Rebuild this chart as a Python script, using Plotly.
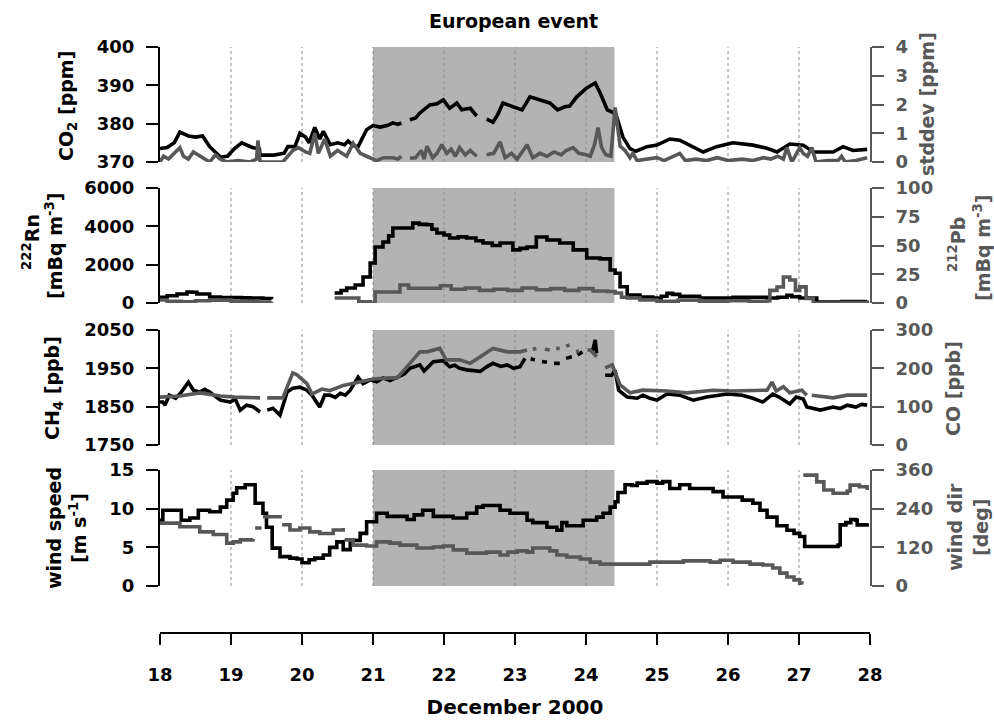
import plotly.graph_objects as go

# ---------------- data ----------------
days = [18, 19, 20, 21, 22, 23, 24, 25, 26, 27, 28]
event_start, event_end = 21.0, 24.4

co2_x = [18.0, 18.1, 18.2, 18.28, 18.4, 18.5, 18.6, 18.7, 18.85, 18.95, 19.05, 19.15, 19.3, 19.4, 19.41, 19.6, 19.75, 19.8, 19.9, 19.97, 20.05, 20.1, 20.18, 20.25, 20.3, 20.4, 20.5, 20.6, 20.65, 20.72, 20.79, 20.85, 20.91, 21.0, 21.1, 21.2, 21.28, 21.35, 21.4, None,
         21.52, 21.6, 21.66, 21.8, 21.9, 21.99, 22.08, 22.18, 22.25, 22.37, 22.46, None,
         22.6, 22.69, 22.76, 22.83, 22.97, 23.1, 23.21, 23.35, 23.49, 23.6, 23.7, 23.77, 23.87, 24.01, 24.13, 24.2, 24.3, 24.37, 24.42, 24.52, 24.62, 24.7, 24.86, 25.0, 25.18, 25.32, 25.49, 25.65, 25.84, 26.07, 26.35, 26.55, 26.69, 26.87, 27.06, 27.2, 27.48, 27.62, 27.76, 27.96]
co2_y = [373.5, 373.8, 375.0, 377.8, 376.8, 376.5, 376.8, 374.0, 371.3, 371.5, 373.5, 375.0, 373.8, 373.4, 371.8, 371.8, 372.3, 374.0, 374.0, 377.5, 376.5, 375.0, 379.0, 376.0, 378.0, 374.5, 375.0, 374.5, 375.5, 374.3, 374.0, 376.0, 378.4, 379.5, 379.1, 379.5, 380.2, 379.8, 380.2, None,
         381.0, 381.5, 382.8, 384.9, 385.2, 386.2, 384.0, 385.4, 383.6, 384.0, 382.0, None,
         381.2, 380.4, 382.5, 385.4, 384.4, 383.6, 387.0, 386.2, 385.4, 383.6, 384.4, 384.6, 387.0, 389.3, 390.6, 388.0, 383.6, 383.0, 382.5, 376.5, 373.5, 372.8, 374.0, 374.4, 376.0, 375.7, 374.2, 372.6, 374.0, 375.0, 374.4, 373.6, 372.6, 374.7, 374.4, 372.6, 372.6, 374.0, 373.0, 373.3]

sd_x = [18.0, 18.05, 18.12, 18.2, 18.28, 18.33, 18.4, 18.47, 18.56, 18.63, 18.7, 18.78, 18.85, 18.94, 19.1, 19.27, 19.36, 19.38, 19.41, 19.6, 19.73, 19.87, 19.95, 20.05, 20.11, 20.18, 20.23, 20.32, 20.4, 20.5, 20.63, 20.72, 20.82, 20.91, 21.05, 21.15, 21.28, 21.35, 21.4, None,
        21.52, 21.6, 21.68, 21.72, 21.76, 21.84, 21.9, 21.97, 22.04, 22.1, 22.16, 22.22, 22.3, 22.37, 22.46, None,
        22.6, 22.7, 22.79, 22.86, 22.95, 23.03, 23.1, 23.17, 23.25, 23.35, 23.45, 23.55, 23.65, 23.72, 23.82, 23.9, 24.0, 24.06, 24.12, 24.17, 24.22, 24.28, 24.35, 24.41, 24.48, 24.55, 24.62, 24.66, 24.72, 24.85, 25.0, 25.1, 25.25, 25.32, 25.4, 25.55, 25.7, 25.85, 26.0, 26.2, 26.35, 26.5, 26.6, 26.7, 26.78, 26.83, 26.9, 26.96, 27.01, 27.06, 27.12, 27.18, 27.24, 27.4, 27.55, 27.6, 27.65, 27.8, 27.96]
sd_y = [0.0, 0.2, 0.1, 0.3, 0.5, 0.2, 0.1, 0.35, 0.2, 0.1, 0.0, 0.25, 0.1, 0.0, 0.05, 0.0, 0.1, 0.75, 0.0, 0.0, 0.0, 0.4, 0.5, 0.35, 0.3, 1.0, 0.3, 0.8, 0.2, 0.4, 0.2, 0.65, 0.3, 0.2, 0.05, 0.15, 0.15, 0.1, 0.2, None,
        0.13, 0.15, 0.4, 0.1, 0.55, 0.15, 0.3, 0.6, 0.3, 0.45, 0.2, 0.5, 0.25, 0.4, 0.2, None,
        0.25, 0.3, 0.7, 0.15, 0.3, 0.1, 0.35, 0.6, 0.15, 0.3, 0.2, 0.35, 0.25, 0.4, 0.5, 0.3, 0.25, 0.2, 0.6, 1.2, 0.5, 0.25, 0.2, 1.9, 0.55, 0.4, 0.15, 0.3, 0.05, 0.1, 0.15, 0.05, 0.2, 0.3, 0.05, 0.1, 0.05, 0.15, 0.05, 0.1, 0.05, 0.15, 0.1, 0.2, 0.1, 0.5, 0.0, 0.3, 0.5, 0.3, 0.2, 0.5, 0.0, 0.05, 0.05, 0.2, 0.0, 0.05, 0.15]

rn_x = [18.0, 18.1, 18.24, 18.38, 18.45, 18.52, 18.7, 18.85, 18.99, 19.15, 19.27, 19.45, 19.57, None,
        20.46, 20.55, 20.63, 20.75, 20.86, 20.96, 21.03, 21.14, 21.22, 21.28, 21.42, 21.56, 21.65, 21.76, 21.83, 21.9, 22.0, 22.08, 22.2, 22.32, 22.45, 22.55, 22.68, 22.79, 22.97, 23.07, 23.17, 23.3, 23.45, 23.63, 23.82, 24.01, 24.2, 24.34, 24.41, 24.48, 24.58, 24.76, 24.94, 25.06, 25.14, 25.22, 25.32, 25.6, 26.07, 26.55, 26.7, 26.83, 26.9, 27.01, 27.25, 27.6, 27.96]
rn_y = [300, 380, 470, 575, 560, 470, 313, 290, 280, 270, 260, 230, 200, None,
        520, 650, 780, 940, 1360, 2090, 2920, 3180, 3500, 3910, 3910, 4170, 4100, 4080, 3850, 3650, 3550, 3390, 3450, 3390, 3250, 3130, 3000, 3130, 2770, 2850, 2920, 3440, 3290, 3130, 2770, 2350, 2300, 1720, 1550, 850, 420, 310, 260, 350, 500, 450, 350, 260, 300, 260, 300, 400, 330, 260, 50, 80, 120]

pb_x = [18.0, 18.1, 18.3, 18.5, 18.7, 19.0, 19.2, 19.4, 19.57, None,
        20.46, 20.65, 20.8, 20.96, 21.03, 21.34, 21.38, 21.5, 21.85, 21.95, 22.1, 22.3, 22.5, 22.7, 22.9, 23.1, 23.3, 23.5, 23.7, 23.9, 24.1, 24.3, 24.41, 24.5, 24.58, 24.76, 25.0, 25.3, 25.6, 26.0, 26.3, 26.55, 26.59, 26.69, 26.78, 26.87, 26.95, 27.01, 27.1, 27.2, 27.6, 27.96]
pb_y = [2.6, 1.5, 1.0, 2.0, 2.5, 1.5, 1.0, 0.5, 1.0, None,
        4.3, 4.3, 1.0, 0.0, 9.6, 9.6, 15.6, 12.8, 12.8, 15.0, 12.0, 13.0, 11.0, 12.0, 11.0, 13.0, 11.5, 12.5, 11.0, 12.5, 10.5, 10.0, 8.7, 5.0, 4.3, 2.6, 1.5, 2.5, 1.5, 2.0, 1.5, 2.0, 11.0, 13.9, 22.6, 20.0, 11.0, 14.0, 4.0, 0.0, 0.5, 0.0]

ch4_x = [18.0, 18.04, 18.07, 18.13, 18.22, 18.3, 18.4, 18.47, 18.56, 18.63, 18.7, 18.78, 18.85, 18.99, 19.06, 19.13, 19.22, 19.31, 19.41, None,
         19.51, 19.59, 19.69, 19.79, 19.87, 19.97, 20.07, 20.14, 20.25, 20.32, 20.39, 20.47, 20.54, 20.61, 20.68, 20.79, 20.86, 20.96, 21.05, 21.14, 21.24, 21.34, 21.44, 21.52, 21.66, 21.72, 21.85, 21.99, 22.08, 22.15, 22.22, 22.32, 22.41, 22.51, 22.6, 22.69, 22.8, 22.89, 22.98, 23.07, 23.14, None,
         23.22, 23.28, None, 23.38, 23.45, None, 23.55, 23.63, None, 23.72, 23.8, None, 23.88, 23.95, None, 24.06, 24.1, 24.13, 24.15, None,
         24.27, 24.36, 24.41, 24.46, 24.58, 24.72, 24.8, 24.9, 25.0, 25.14, 25.32, 25.42, 25.51, 25.7, 25.85, 25.99, 26.2, 26.35, 26.49, 26.63, 26.72, 26.87, 26.96, 27.06, 27.11, 27.3, 27.48, 27.58, 27.68, 27.8, 27.88, 27.96]
ch4_y = [1862, 1862, 1854, 1880, 1872, 1888, 1914, 1893, 1888, 1895, 1888, 1878, 1867, 1862, 1870, 1841, 1854, 1850, 1836, None,
         1841, 1846, 1828, 1888, 1898, 1901, 1893, 1880, 1849, 1880, 1880, 1874, 1885, 1880, 1893, 1927, 1910, 1920, 1915, 1925, 1918, 1927, 1935, 1950, 1959, 1943, 1967, 1970, 1954, 1958, 1950, 1946, 1943, 1942, 1954, 1963, 1955, 1959, 1950, 1954, 1976, None,
         1975, 1972, None, 1968, 1966, None, 1963, 1963, None, 1976, 1980, None, 1985, 1993, None, 1995, 2000, 2024, 1989, None,
         1932, 1932, 1945, 1893, 1875, 1872, 1880, 1872, 1867, 1883, 1880, 1874, 1867, 1875, 1878, 1883, 1880, 1872, 1862, 1883, 1875, 1857, 1875, 1870, 1849, 1841, 1849, 1845, 1854, 1849, 1856, 1854]

co_x = [18.0, 18.28, 18.56, 18.85, 19.05, 19.41, None,
        19.51, 19.73, 19.87, 19.93, 20.07, 20.14, 20.28, 20.39, 20.58, 20.82, 21.0, 21.24, 21.34, 21.52, 21.66, 21.76, 21.94, 22.03, 22.22, 22.37, 22.55, 22.69, 22.89, 23.07, 23.17, None,
        23.25, 23.3, None, 23.42, 23.49, None, 23.58, 23.63, None, 23.72, 23.77, None, 23.86, 23.9, None, 24.02, 24.06, 24.15, None,
        24.27, 24.37, 24.48, 24.62, 24.8, 25.14, 25.42, 25.79, 26.07, 26.45, 26.55, 26.62, 26.68, 26.78, 26.87, 27.04, 27.11, None,
        27.18, 27.48, 27.68, 27.96]
co_y = [125, 128, 136, 128, 125, 123, None,
        123, 123, 188, 183, 160, 133, 146, 142, 155, 164, 172, 175, 175, 213, 243, 243, 252, 222, 222, 213, 235, 252, 243, 243, 248, None,
        250, 252, None, 250, 248, None, 252, 252, None, 258, 261, None, 243, 245, None, 248, 248, 230, None,
        201, 209, 157, 136, 143, 141, 136, 143, 141, 141, 143, 164, 141, 152, 136, 143, 130, None,
        130, 123, 130, 130]

ws_x = [18.0, 18.04, 18.3, 18.42, 18.54, 18.7, 18.85, 18.94, 19.03, 19.08, 19.2, 19.34, 19.45, 19.5, 19.58, 19.69, 19.83, 19.93, 20.0, 20.1, 20.18, 20.3, 20.39, 20.49, 20.58, 20.68, 20.82, 20.91, 21.05, 21.2, 21.48, 21.58, 21.7, 21.85, 22.13, 22.32, 22.46, 22.55, 22.79, 22.93, 23.17, 23.25, 23.45, 23.59, 23.66, 23.73, 23.96, 24.15, 24.24, 24.34, 24.41, 24.45, 24.55, 24.65, 24.72, 24.86, 25.0, 25.08, 25.18, 25.32, 25.46, 25.79, 25.93, 26.2, 26.35, 26.45, 26.55, 26.69, 26.83, 26.93, 27.01, 27.08, 27.55, 27.58, 27.66, 27.73, 27.8, 27.82, 27.96]
ws_y = [8.5, 9.8, 8.5, 8.8, 9.8, 9.6, 10.2, 11.1, 12.0, 12.7, 13.1, 10.7, 9.4, 7.6, 4.9, 3.8, 3.6, 3.5, 3.0, 3.4, 3.6, 4.0, 5.0, 5.7, 4.7, 5.9, 6.8, 8.3, 9.4, 9.0, 8.6, 9.2, 9.8, 9.0, 8.8, 9.4, 10.2, 10.4, 9.8, 9.4, 8.5, 8.2, 7.6, 7.2, 8.2, 7.8, 8.5, 8.9, 9.4, 10.2, 10.9, 12.1, 13.1, 13.0, 13.3, 13.5, 13.3, 13.5, 12.6, 13.1, 12.6, 12.2, 11.5, 11.1, 10.7, 9.8, 8.9, 7.8, 7.2, 6.8, 6.4, 5.1, 5.3, 7.9, 8.2, 8.6, 8.5, 7.9, 8.1]

wd_x = [18.0, 18.28, 18.56, 18.75, 18.94, 19.03, 19.13, 19.31, None,
        19.34, 19.43, None, 19.45, 19.69, None, 19.72, 19.83, 19.97, 20.11, 20.25, 20.44, 20.58, None,
        20.6, 20.72, 20.91, 21.05, 21.24, 21.38, 21.62, 21.85, 21.99, 22.13, 22.32, 22.6, 22.79, 22.9, 23.03, 23.17, 23.25, 23.49, 23.59, 23.73, 23.92, 24.06, 24.2, 24.9, 25.37, 25.6, 25.75, 25.89, 26.07, 26.31, 26.49, 26.63, 26.73, 26.83, 26.93, 27.01, 27.04, None,
        27.06, 27.15, 27.25, 27.35, 27.48, 27.68, 27.72, 27.85, 27.96]
wd_y = [195, 184, 168, 160, 133, 137, 143, 146, None,
        180, 180, None, 215, 220, None, 190, 174, 180, 168, 163, 174, 180, None,
        143, 127, 124, 137, 133, 127, 118, 121, 124, 112, 102, 105, 96, 105, 109, 105, 118, 109, 96, 90, 84, 74, 68, 74, 78, 78, 74, 80, 74, 68, 65, 56, 40, 28, 19, 9, 5, None,
        344, 344, 323, 298, 288, 295, 313, 308, 298]

# ---------------- styling ----------------
W, H = 994, 720
X_LEFT, X_RIGHT = 160, 870
PANELS = [(47, 162), (188, 303), (330, 445), (470, 586)]
BLACK = "#000000"
GRAY = "#585858"
SHADE = "#b3b3b3"
GRID = "#8c8c8c"
FONT = "DejaVu Sans"
LW = 3.6


def ydom(top, bot):
    return [1 - bot / H, 1 - top / H]


xdom = [X_LEFT / W, X_RIGHT / W]

fig = go.Figure()

left_specs = [
    dict(range=[370, 400], tickvals=[370, 380, 390, 400]),
    dict(range=[0, 6000], tickvals=[0, 2000, 4000, 6000]),
    dict(range=[1750, 2050], tickvals=[1750, 1850, 1950, 2050]),
    dict(range=[0, 15], tickvals=[0, 5, 10, 15]),
]
right_specs = [
    dict(range=[0, 4], tickvals=[0, 1, 2, 3, 4]),
    dict(range=[0, 100], tickvals=[0, 25, 50, 75, 100]),
    dict(range=[0, 300], tickvals=[0, 100, 200, 300]),
    dict(range=[0, 360], tickvals=[0, 120, 240, 360]),
]

layout = dict(
    width=W, height=H, margin=dict(l=0, r=0, t=0, b=0, pad=0, autoexpand=False),
    paper_bgcolor="white", plot_bgcolor="white", showlegend=False,
)
shapes = []
for i, (top, bot) in enumerate(PANELS):
    n = i + 1
    xs = "" if n == 1 else str(n)
    layout["xaxis" + xs] = dict(domain=xdom, range=[18, 28], visible=False,
                                anchor="y" + xs, showgrid=False, zeroline=False)
    layout["yaxis" + xs] = dict(
        domain=ydom(top, bot), anchor="x" + xs, showgrid=False, zeroline=False,
        showline=True, linecolor=BLACK, linewidth=2, ticks="outside", ticklen=12,
        tickwidth=2, tickcolor=BLACK, ticklabelstandoff=8,
        tickfont=dict(family=FONT, size=18, color=BLACK, weight="bold"),
        **left_specs[i])
    layout["yaxis" + str(n + 4)] = dict(
        overlaying="y" + xs, side="right", anchor="x" + xs, showgrid=False,
        zeroline=False, showline=True, linecolor=GRAY, linewidth=2,
        ticks="outside", ticklen=12, tickwidth=2, tickcolor=GRAY,
        ticklabelstandoff=8,
        tickfont=dict(family=FONT, size=18, color=GRAY, weight="bold"),
        **right_specs[i])
    # event shading
    shapes.append(dict(type="rect", xref="x" + xs, yref="y" + xs + " domain",
                       x0=event_start, x1=event_end, y0=0, y1=1,
                       fillcolor=SHADE, line=dict(width=0), layer="below"))
    for d in days[1:-1]:
        shapes.append(dict(type="line", xref="x" + xs, yref="y" + xs + " domain",
                           x0=d, x1=d, y0=0, y1=1, layer="below",
                           line=dict(color=GRID, width=1, dash="dot")))

# bottom date axis
layout["xaxis5"] = dict(
    domain=xdom, range=[18, 28], anchor="y9", side="bottom",
    showline=True, linecolor=BLACK, linewidth=2, ticks="outside", ticklen=11,
    tickwidth=2, tickcolor=BLACK, tickvals=days, ticklabelstandoff=14,
    showgrid=False, zeroline=False,
    tickfont=dict(family=FONT, size=18, color=BLACK, weight="bold"),
    title=dict(text="December 2000", standoff=16,
               font=dict(family=FONT, size=20, color=BLACK, weight="bold")),
)
layout["yaxis9"] = dict(domain=[1 - 632 / H, 1 - 624 / H], anchor="x5", visible=False, range=[0, 1])
layout["shapes"] = shapes


def line(x, y, xa, ya, color, shape="linear"):
    return go.Scatter(x=x, y=y, xaxis=xa, yaxis=ya, mode="lines",
                      line=dict(color=color, width=LW, shape=shape),
                      connectgaps=False, hoverinfo="skip")


fig.add_trace(go.Scatter(x=[18, 28], y=[0, 0], xaxis="x5", yaxis="y9", mode="lines",
                         line=dict(width=0), hoverinfo="skip"))
# panel 1
fig.add_trace(line(co2_x, co2_y, "x", "y", BLACK))
fig.add_trace(line(sd_x, sd_y, "x", "y5", GRAY))
# panel 2
fig.add_trace(line(rn_x, rn_y, "x2", "y2", BLACK, "hv"))
fig.add_trace(line(pb_x, pb_y, "x2", "y6", GRAY, "hv"))
# panel 3
fig.add_trace(line(co_x, co_y, "x3", "y7", GRAY))
fig.add_trace(line(ch4_x, ch4_y, "x3", "y3", BLACK))
# panel 4
fig.add_trace(line(wd_x, wd_y, "x4", "y8", GRAY, "hv"))
fig.add_trace(line(ws_x, ws_y, "x4", "y4", BLACK, "hv"))

ann = []


def label(text, px, py, color=BLACK, size=19, angle=-90):
    ann.append(dict(text=text, x=px / W, y=1 - py / H, xref="paper", yref="paper",
                    showarrow=False, textangle=angle, xanchor="center", yanchor="middle",
                    font=dict(family=FONT, size=size, color=color, weight="bold")))


label("European event", 513, 21, size=19, angle=0)
label("CO<sub>2</sub> [ppm]", 67, 106)
label("<sup>222</sup>Rn", 31, 242)
label("[mBq m<sup>-3</sup>]", 54, 246)
label("CH<sub>4</sub> [ppb]", 53, 388)
label("wind speed", 54, 528)
label("[m s<sup>-1</sup>]", 78, 528)
label("stddev [ppm]", 927, 104, GRAY)
label("<sup>212</sup>Pb", 957, 245, GRAY)
label("[mBq m<sup>-3</sup>]", 982, 248, GRAY)
label("CO [ppb]", 953, 389, GRAY)
label("wind dir", 955, 527, GRAY)
label("[deg]", 981, 528, GRAY)
layout["annotations"] = ann

fig.update_layout(**layout)
fig.write_html("out.html")
